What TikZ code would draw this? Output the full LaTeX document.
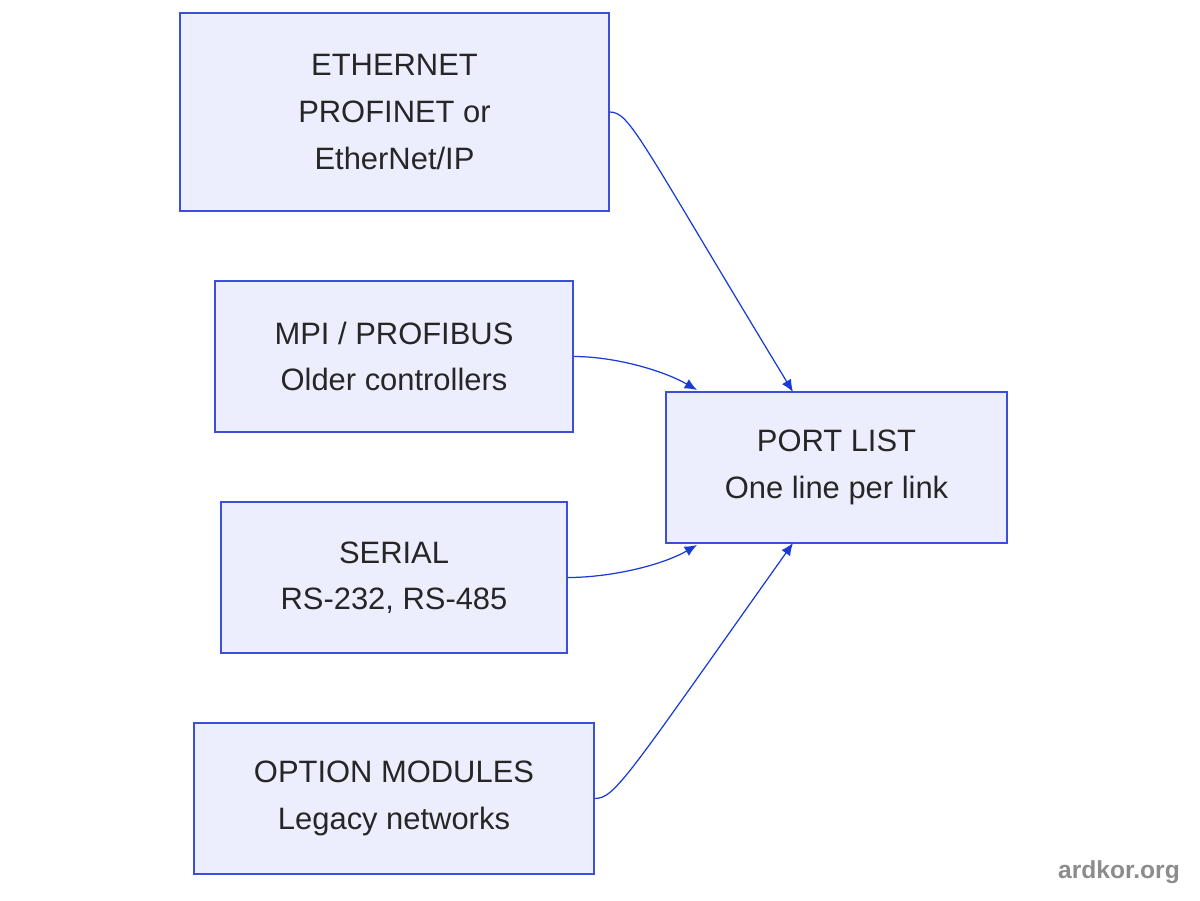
\documentclass[tikz,border=0pt]{standalone}
\usepackage{fontspec}
\setmainfont{Liberation Sans}
\usetikzlibrary{arrows.meta,positioning}
\definecolor{boxfill}{HTML}{ECEEFE}
\definecolor{boxline}{HTML}{3B4FDB}
\definecolor{linkblue}{HTML}{1A3AD6}
\begin{document}
\begin{tikzpicture}[x=0.02cm,y=-0.02cm,
  box/.style={draw=boxline,fill=boxfill,line width=0.9pt,align=center,
    text=black!85,font=\fontsize{17.6}{26.5}\selectfont,inner sep=0pt},
  link/.style={draw=linkblue,line width=0.7pt,-{Latex[length=7pt,width=6pt]}}]
  \useasboundingbox (0,0) rectangle (1200,900);

  \node[box,minimum width=8.58cm,minimum height=3.96cm] (eth) at (394.5,112) {ETHERNET\\PROFINET or\\EtherNet/IP};
  \node[box,minimum width=7.16cm,minimum height=3.02cm] (mpi) at (394,356.5) {MPI / PROFIBUS\\Older controllers};
  \node[box,minimum width=6.92cm,minimum height=3.02cm] (ser) at (394,577.5) {SERIAL\\RS-232, RS-485};
  \node[box,minimum width=8cm,minimum height=3.02cm] (opt) at (394,798.5) {OPTION MODULES\\Legacy networks};
  \node[box,minimum width=6.82cm,minimum height=3.02cm] (port) at (836.5,467.5) {PORT LIST\\One line per link};

  \coordinate (in1) at (793,392);
  \coordinate (in2) at (697,390);
  \coordinate (in3) at (697,545);
  \coordinate (in4) at (793,543);

  \draw[link] (eth.east) .. controls (630,112) and (640,140) .. (in1);
  \draw[link] (mpi.east) to[out=0,in=150,looseness=0.8] (in2);
  \draw[link] (ser.east) to[out=0,in=210,looseness=0.8] (in3);
  \draw[link] (opt.east) .. controls (615,798) and (625,780) .. (in4);

  \node[text=black!45,font=\fontsize{14}{17}\selectfont\bfseries] (mark) at (1119,872) {ardkor.org};
\end{tikzpicture}
\end{document}
